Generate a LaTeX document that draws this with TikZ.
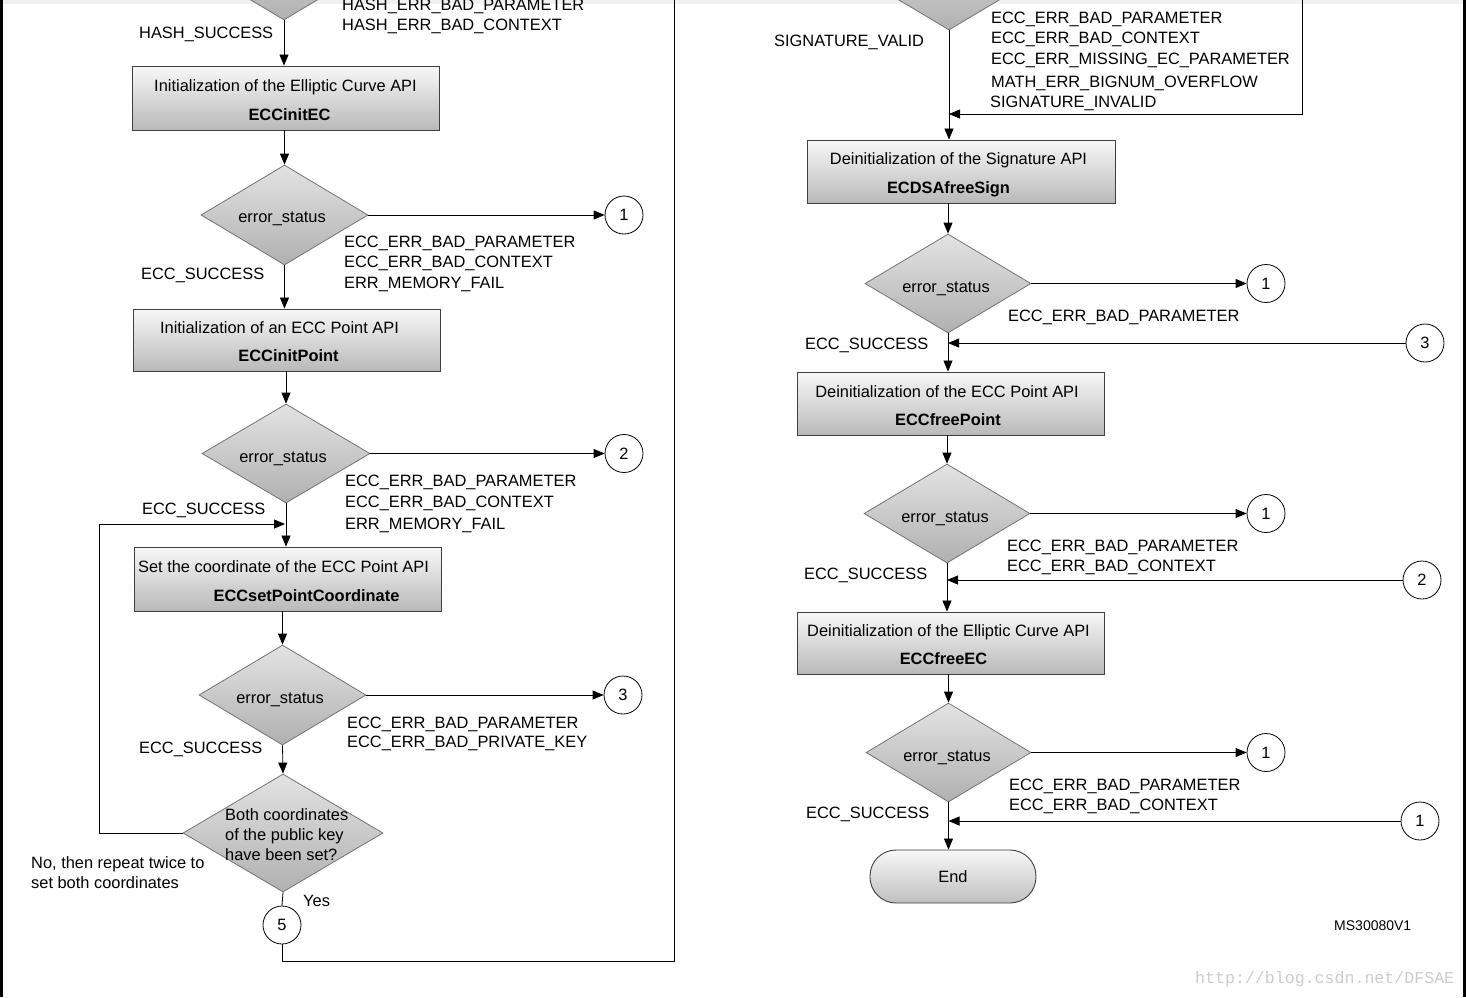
\documentclass[tikz,border=0pt]{standalone}
\usepackage{fontspec}
\setmainfont{Liberation Sans}
\newfontfamily\wmfont{Liberation Mono}
\usetikzlibrary{shapes.geometric,arrows.meta}
\tikzset{
  basefont/.style={font=\fontsize{16.4}{19.7}\selectfont},
  stepbox/.style={rectangle, draw=black!75, line width=0.9pt, top color=gray!6, bottom color=gray!55,
    inner sep=0pt},
  dec/.style={diamond, draw=black!55, line width=0.8pt, top color=gray!22, bottom color=gray!62,
    inner sep=0pt},
  conn/.style={circle, draw=black, line width=0.8pt, fill=white, minimum size=38pt, inner sep=0pt, basefont},
  lbl/.style={anchor=base west, inner sep=0pt, basefont},
  ctr/.style={anchor=base, inner sep=0pt, basefont},
  arr/.style={line width=0.8pt, -{Triangle[length=11pt,width=9pt]}},
  ln/.style={line width=0.8pt},
}
\begin{document}
\begin{tikzpicture}[x=1pt,y=-1pt]
\useasboundingbox (0,0) rectangle (1466,997);
\clip (0,0) rectangle (1466,997);
\fill[white] (0,0) rectangle (1466,997);
\fill[gray!12] (0,0) rectangle (1466,4);
\fill[black] (0,0) rectangle (3,997);
\fill[black] (1463,0) rectangle (1466,997);

% ---------- left column ----------
\node[dec, minimum width=167pt, minimum height=100pt] (D0) at (284,-30) {};
\node[lbl] (h1) at (342,10) {HASH\_ERR\_BAD\_PARAMETER};
\node[lbl] (h2) at (342,30) {HASH\_ERR\_BAD\_CONTEXT};
\node[lbl] (hs) at (139,38) {HASH\_SUCCESS};

\node[stepbox, minimum width=307pt, minimum height=64pt] (B1) at (285.5,98) {};
\node[ctr] (B1a) at (285.5,91) {Initialization of the Elliptic Curve API};
\node[ctr] (B1b) at (289.5,120) {\textbf{ECCinitEC}};

\node[dec, minimum width=167pt, minimum height=100pt] (D1) at (284.5,215) {};
\node[ctr] (D1t) at (282,222) {error\_status};
\node[conn] (C1) at (624,215) {1};
\node[lbl] at (344,247) {ECC\_ERR\_BAD\_PARAMETER};
\node[lbl] at (344,267) {ECC\_ERR\_BAD\_CONTEXT};
\node[lbl] at (344,288) {ERR\_MEMORY\_FAIL};
\node[lbl] at (141,279) {ECC\_SUCCESS};

\node[stepbox, minimum width=307pt, minimum height=62pt] (B2) at (286.5,340) {};
\node[ctr] (B2a) at (279.5,333) {Initialization of an ECC Point API};
\node[ctr] (B2b) at (288.5,361) {\textbf{ECCinitPoint}};

\node[dec, minimum width=168pt, minimum height=99pt] (D2) at (286,453.5) {};
\node[ctr] (D2t) at (283,462) {error\_status};
\node[conn] (C2) at (624,453.5) {2};
\node[lbl] at (345,486) {ECC\_ERR\_BAD\_PARAMETER};
\node[lbl] at (345,507) {ECC\_ERR\_BAD\_CONTEXT};
\node[lbl] at (345,529) {ERR\_MEMORY\_FAIL};
\node[lbl] at (142,514) {ECC\_SUCCESS};

\node[stepbox, minimum width=307pt, minimum height=64pt] (B3) at (287.5,579) {};
\node[ctr] (B3a) at (283.5,572) {Set the coordinate of the ECC Point API};
\node[ctr] (B3b) at (306.5,601) {\textbf{ECCsetPointCoordinate}};

\node[dec, minimum width=167pt, minimum height=100pt] (D3) at (282.5,695) {};
\node[ctr] (D3t) at (280,703) {error\_status};
\node[conn] (C3) at (623,695) {3};
\node[lbl] at (347,728) {ECC\_ERR\_BAD\_PARAMETER};
\node[lbl] at (347,747) {ECC\_ERR\_BAD\_PRIVATE\_KEY};
\node[lbl] at (139,753) {ECC\_SUCCESS};

\node[dec, minimum width=200pt, minimum height=118pt] (D4) at (283,833) {};
\node[lbl] at (225,820) {Both coordinates};
\node[lbl] at (225,840) {of the public key};
\node[lbl] at (225,860) {have been set?};
\node[lbl] at (31,868) {No, then repeat twice to};
\node[lbl] at (31,888) {set both coordinates};
\node[lbl] at (303,906) {Yes};
\node[conn] (C5) at (282,925) {5};

\coordinate (L1) at (99,833);
\coordinate (L2) at (99,524);
\coordinate (L3) at (285,524);
\coordinate (R5a) at (282,961);
\coordinate (R5b) at (674,961);
\coordinate (R5c) at (674,-5);

\draw[arr] (D0.south) -- (B1.north -| D0.south);
\draw[arr] (B1.south -| D1.north) -- (D1.north);
\draw[arr] (D1.east) -- (C1.west);
\draw[arr] (D1.south) -- (B2.north -| D1.south);
\draw[arr] (B2.south -| D2.north) -- (D2.north);
\draw[arr] (D2.east) -- (C2.west);
\draw[arr] (D2.south) -- (B3.north -| D2.south);
\draw[arr] (D4.west) -- (L1) -- (L2) -- (L3);
\draw[arr] (B3.south -| D3.north) -- (D3.north);
\draw[arr] (D3.east) -- (C3.west);
\draw[arr] (D3.south) -- (D4.north);
\draw[ln] (D4.south) -- (C5.north);
\draw[ln] (C5.south) -- (R5a) -- (R5b) -- (R5c);

% ---------- right column ----------
\node[dec, minimum width=166pt, minimum height=99pt] (E0) at (949,-19.5) {};
\node[lbl] at (774,46) {SIGNATURE\_VALID};
\node[lbl] at (991,23) {ECC\_ERR\_BAD\_PARAMETER};
\node[lbl] at (991,43) {ECC\_ERR\_BAD\_CONTEXT};
\node[lbl] at (991,64) {ECC\_ERR\_MISSING\_EC\_PARAMETER};
\node[lbl] at (991,87) {MATH\_ERR\_BIGNUM\_OVERFLOW};
\node[lbl] at (990,107) {SIGNATURE\_INVALID};
\coordinate (S1) at (1302,-5);
\coordinate (S2) at (1302,114);
\coordinate (S3) at (949,114);

\node[stepbox, minimum width=308pt, minimum height=63pt] (F1) at (961,171.5) {};
\node[ctr] (F1a) at (958.5,164) {Deinitialization of the Signature API};
\node[ctr] (F1b) at (948.5,193) {\textbf{ECDSAfreeSign}};

\node[dec, minimum width=166pt, minimum height=99pt] (E1) at (948,283.5) {};
\node[ctr] (E1t) at (946,292) {error\_status};
\node[conn] (K1) at (1266,283.5) {1};
\node[conn] (K3) at (1425,343) {3};
\node[lbl] at (1008,321) {ECC\_ERR\_BAD\_PARAMETER};
\node[lbl] at (805,349) {ECC\_SUCCESS};

\node[stepbox, minimum width=307pt, minimum height=63pt] (F2) at (950.5,403.5) {};
\node[ctr] (F2a) at (947,397) {Deinitialization of the ECC Point API};
\node[ctr] (F2b) at (948,425) {\textbf{ECCfreePoint}};

\node[dec, minimum width=166pt, minimum height=99pt] (E2) at (947,513.5) {};
\node[ctr] (E2t) at (945,522) {error\_status};
\node[conn] (K1b) at (1266,513.5) {1};
\node[conn] (K2) at (1422,580) {2};
\node[lbl] at (1007,551) {ECC\_ERR\_BAD\_PARAMETER};
\node[lbl] at (1007,571) {ECC\_ERR\_BAD\_CONTEXT};
\node[lbl] at (804,579) {ECC\_SUCCESS};

\node[stepbox, minimum width=307pt, minimum height=62pt] (F3) at (950.5,643) {};
\node[ctr] (F3a) at (948.5,636) {Deinitialization of the Elliptic Curve API};
\node[ctr] (F3b) at (943.5,664) {\textbf{ECCfreeEC}};

\node[dec, minimum width=165pt, minimum height=99pt] (E3) at (948.5,752.5) {};
\node[ctr] (E3t) at (947,761) {error\_status};
\node[conn] (K1c) at (1266,752.5) {1};
\node[conn] (K1d) at (1420,821) {1};
\node[lbl] at (1009,790) {ECC\_ERR\_BAD\_PARAMETER};
\node[lbl] at (1009,810) {ECC\_ERR\_BAD\_CONTEXT};
\node[lbl] at (806,818) {ECC\_SUCCESS};

\node[rectangle, rounded corners=26pt, draw=black!75, line width=0.9pt, top color=gray!6, bottom color=gray!50,
  minimum width=166pt, minimum height=53pt, basefont] (End) at (953,876.5) {End};

\node[lbl, font=\fontsize{14}{16}\selectfont] at (1334,930) {MS30080V1};
\node[anchor=base west, inner sep=0pt, text=gray!40, font=\wmfont\fontsize{16.6}{18}\selectfont] at (1195,983) {http://blog.csdn.net/DFSAE};

\draw[arr] (E0.south) -- (F1.north -| E0.south);
\draw[arr] (S1) -- (S2) -- (S3);
\draw[arr] (F1.south -| E1.north) -- (E1.north);
\draw[arr] (E1.east) -- (K1.west);
\draw[arr] (E1.south) -- (F2.north -| E1.south);
\draw[arr] (K3.west) -- (K3.west -| E1.south);
\draw[arr] (F2.south -| E2.north) -- (E2.north);
\draw[arr] (E2.east) -- (K1b.west);
\draw[arr] (E2.south) -- (F3.north -| E2.south);
\draw[arr] (K2.west) -- (K2.west -| E2.south);
\draw[arr] (F3.south -| E3.north) -- (E3.north);
\draw[arr] (E3.east) -- (K1c.west);
\draw[arr] (E3.south) -- (End.north -| E3.south);
\draw[arr] (K1d.west) -- (K1d.west -| E3.south);
\end{tikzpicture}
\end{document}
